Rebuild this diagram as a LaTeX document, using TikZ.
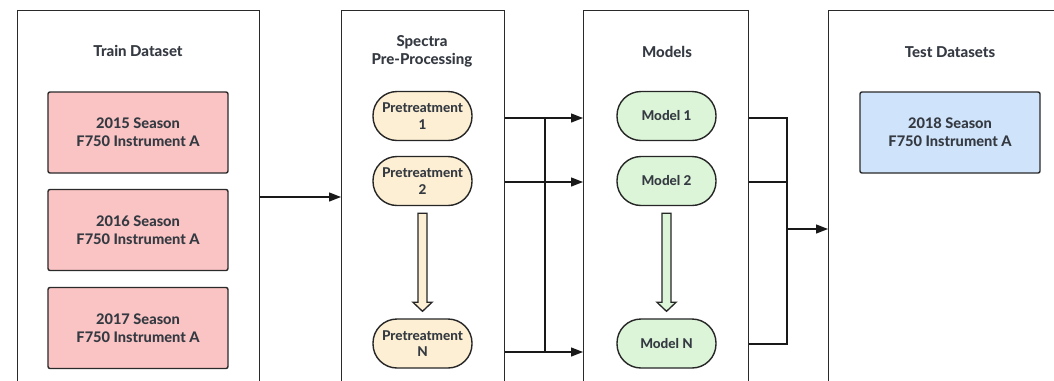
\documentclass[tikz,border=0pt]{standalone}
\usepackage{fontspec}
\setmainfont{Lato}[BoldFont={Lato Heavy}]
\usetikzlibrary{arrows.meta,calc}

\definecolor{ink}{HTML}{353A42}
\definecolor{edge}{HTML}{2A2A2A}
\definecolor{pinkfill}{HTML}{F9C4C3}
\definecolor{creamfill}{HTML}{FCEFD3}
\definecolor{greenfill}{HTML}{DCF5D8}
\definecolor{bluefill}{HTML}{CFE3FA}

\tikzset{
  panel/.style={draw=edge, line width=1.3bp, fill=white, anchor=north west,
    minimum height=420bp, inner sep=0pt},
  title/.style={text=ink, font=\fontsize{15bp}{18bp}\selectfont\bfseries, align=center},
  databox/.style={draw=edge, line width=1.4bp, rounded corners=2bp,
    minimum width=180bp, minimum height=81bp, text=ink, align=center,
    font=\fontsize{14.6bp}{18bp}\selectfont\bfseries},
  pill/.style={draw=black!85, line width=1.4bp, rounded corners=24bp,
    minimum width=99bp, minimum height=49bp, text=ink, align=center,
    font=\fontsize{13.5bp}{16.5bp}\selectfont\bfseries, inner sep=0pt},
  wire/.style={draw=black!90, line width=1.3bp},
  arr/.style={wire, -{Triangle[length=12bp,width=9bp]}},
  hollow/.style={draw=black!85, line width=1.3bp, line join=miter}
}

\begin{document}
\begin{tikzpicture}[x=1bp,y=-1bp]
  \clip (0,0) rectangle (1054,380);
  \fill[white] (0,0) rectangle (1054,380);

  % four stage panels (they run on below the lower edge)
  \node[panel, minimum width=242bp] (P1) at (17,10) {};
  \node[panel, minimum width=163bp] (P2) at (341,10) {};
  \node[panel, minimum width=165bp] (P3) at (583,10) {};
  \node[panel, minimum width=260bp] (P4) at (828,10) {};

  % stage titles
  \node[title] (T1) at (138,51) {Train Dataset};
  \node[title] (T2) at (422,51) {Spectra\\Pre-Processing};
  \node[title] (T3) at (667,52) {Models};
  \node[title] (T4) at (950,52) {Test Datasets};

  % training seasons
  \node[databox, fill=pinkfill] (D15) at (138,132.5) {2015 Season\\F750 Instrument A};
  \node[databox, fill=pinkfill] (D16) at (138,230) {2016 Season\\F750 Instrument A};
  \node[databox, fill=pinkfill] (D17) at (138,328) {2017 Season\\F750 Instrument A};

  % test season
  \node[databox, fill=bluefill] (D18) at (950,132.5) {2018 Season\\F750 Instrument A};

  % pretreatments
  \node[pill, fill=creamfill] (PT1) at (422.5,116) {Pretreatment\\1};
  \node[pill, fill=creamfill] (PT2) at (422.5,181) {Pretreatment\\2};
  \node[pill, fill=creamfill] (PTN) at (422.5,343.5) {Pretreatment\\N};

  % models
  \node[pill, fill=greenfill] (M1) at (666.5,116) {Model 1};
  \node[pill, fill=greenfill] (M2) at (666.5,181) {Model 2};
  \node[pill, fill=greenfill] (MN) at (666.5,343.5) {Model N};

  % hollow "and so on" arrows
  \draw[hollow, fill=creamfill]
    ($(PT2.south)+(-4.5,7)$) -- ($(PT2.south)+(4.5,7)$) -- ($(PTN.north)+(4.5,-16)$)
    -- ($(PTN.north)+(9.5,-16)$) -- ($(PTN.north)+(0,-7)$) -- ($(PTN.north)+(-9.5,-16)$)
    -- ($(PTN.north)+(-4.5,-16)$) -- cycle;
  \draw[hollow, fill=greenfill]
    ($(M2.south)+(-4.5,7)$) -- ($(M2.south)+(4.5,7)$) -- ($(MN.north)+(4.5,-16)$)
    -- ($(MN.north)+(9.5,-16)$) -- ($(MN.north)+(0,-7)$) -- ($(MN.north)+(-9.5,-16)$)
    -- ($(MN.north)+(-4.5,-16)$) -- cycle;

  % bus lines
  \coordinate (busL) at (545,0);
  \coordinate (busR) at (787,0);

  % train data into pre-processing
  \draw[arr] (P1.east |- 0,197) -- (P2.west |- 0,197);

  % every pretreatment feeds every model
  \draw[arr] (P2.east |- 0,118) -- (P3.west |- 0,118);
  \draw[arr] (P2.east |- 0,182) -- (P3.west |- 0,182);
  \draw[arr] (P2.east |- 0,352) -- (P3.west |- 0,352);
  \draw[wire] (busL |- 0,118) -- (busL |- 0,352);

  % models gathered and applied to the test data
  \draw[wire] (P3.east |- 0,118) -| (busR |- 0,344) -- (P3.east |- 0,344);
  \draw[wire] (P3.east |- 0,182) -- (busR |- 0,182);
  \draw[arr] (busR |- 0,229) -- (P4.west |- 0,229);
\end{tikzpicture}
\end{document}
